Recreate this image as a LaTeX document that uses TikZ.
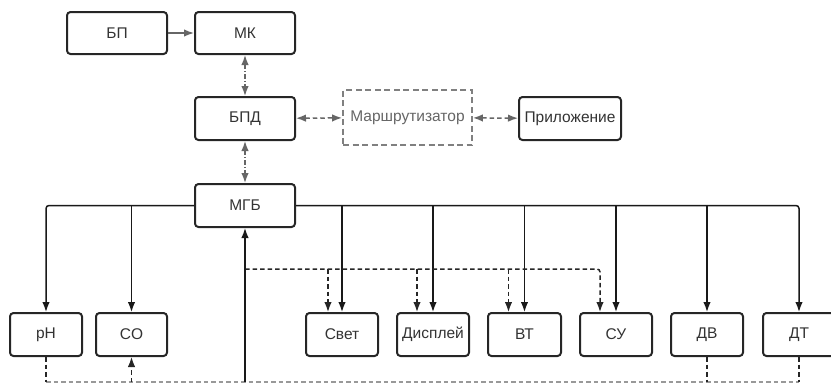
\documentclass[tikz,border=0pt]{standalone}
\usepackage{fontspec}
\setmainfont{Liberation Sans}
\usetikzlibrary{arrows.meta}
\begin{document}
\begin{tikzpicture}[x=1pt,y=-1pt,
  box/.style={draw=black!85, line width=2pt, rounded corners=3.5pt, fill=white,
    minimum height=43pt, minimum width=72pt, inner sep=1pt,
    font=\fontsize{15.5}{17}\selectfont, text=black!80},
  rbox/.style={draw=black!50, line width=1.8pt, dash pattern=on 6pt off 3.5pt, fill=white,
    minimum height=55pt, minimum width=129pt, inner sep=1pt,
    font=\fontsize{15.5}{17}\selectfont, text=black!60},
  tip/.style={-{Latex[length=10pt,width=7.5pt]}},
  btip/.style={{Latex[length=10pt,width=7.5pt]}-{Latex[length=10pt,width=7.5pt]}},
  sline/.style={draw=black!90, line width=1.5pt},
  dline/.style={draw=black!85, line width=1.5pt, dash pattern=on 4.5pt off 3pt},
  lline/.style={draw=black!40, line width=1.3pt, dash pattern=on 4.5pt off 3pt},
  gline/.style={draw=black!60, line width=1.5pt},
  gdash/.style={draw=black!60, line width=1.5pt, dash pattern=on 4.5pt off 3pt},
  gdd/.style={draw=black!60, line width=1.5pt, dash pattern=on 4.5pt off 2pt on 1.5pt off 2pt},
]
\useasboundingbox (0,0) rectangle (831,384);
% nodes
\node[box, minimum width=100pt, minimum height=42pt] (bp) at (117,33) {БП};
\node[box, minimum width=100pt, minimum height=42pt] (mk) at (245,33) {МК};
\node[box, minimum width=100pt] (bpd) at (245,118.5) {БПД};
\node[box, minimum width=100pt] (mgb) at (245,205.5) {МГБ};
\node[rbox] (rt) at (407.5,117.5) {Маршрутизатор};
\node[box, minimum width=102pt] (app) at (570,118.5) {Приложение};
\node[box] (ph) at (46,334.5) {pH};
\node[box, minimum width=71pt] (co) at (131.5,334.5) {CO};
\node[box] (svet) at (342,334.5) {Свет};
\node[box] (disp) at (433,334.5) {Дисплей};
\node[box, minimum width=73pt] (vt) at (524.5,334.5) {ВТ};
\node[box] (su) at (616,334.5) {СУ};
\node[box] (dv) at (707,334.5) {ДВ};
\node[box] (dt) at (799,334.5) {ДТ};
% top connectors
\draw[gline, tip] (bp) -- (mk);
\draw[gdd, btip] (mk) -- (bpd);
\draw[gdd, btip] (bpd) -- (mgb);
\draw[gdash, btip] (bpd) -- (rt);
\draw[gdash, btip] (rt) -- (app);
% solid bus from MGB
\draw[sline, tip, rounded corners=3pt] (mgb.west) -| (ph.north);
\draw[sline, tip] (co.north |- mgb.west) -- (co.north);
\draw[sline, tip, rounded corners=3pt] (mgb.east) -| (dt.north);
\foreach \n in {svet,disp,vt,su,dv}
  \draw[sline, tip] (\n.north |- mgb.east) -- (\n.north);
% dashed branch
\coordinate (j) at (245,269);
\coordinate (sd) at ([xshift=-14pt]svet.north);
\coordinate (dd) at ([xshift=-16pt]disp.north);
\coordinate (vd) at ([xshift=-16pt]vt.north);
\coordinate (ud) at ([xshift=-16pt]su.north);
\draw[dline, tip, rounded corners=3pt] (j) -| (ud);
\foreach \c in {sd,dd,vd}
  \draw[dline, tip] (\c |- j) -- (\c);
% bottom bus
\coordinate (b) at (245,382);
\draw[lline] (ph.south |- b) -- (dt.south |- b);
\draw[dline] (ph.south) -- (ph.south |- b);
\draw[dline] (dv.south) -- (dv.south |- b);
\draw[dline] (dt.south) -- (dt.south |- b);
\draw[dline, tip] (co.south |- b) -- (co.south);
\draw[sline, tip] (b) -- (mgb.south);
\end{tikzpicture}
\end{document}
